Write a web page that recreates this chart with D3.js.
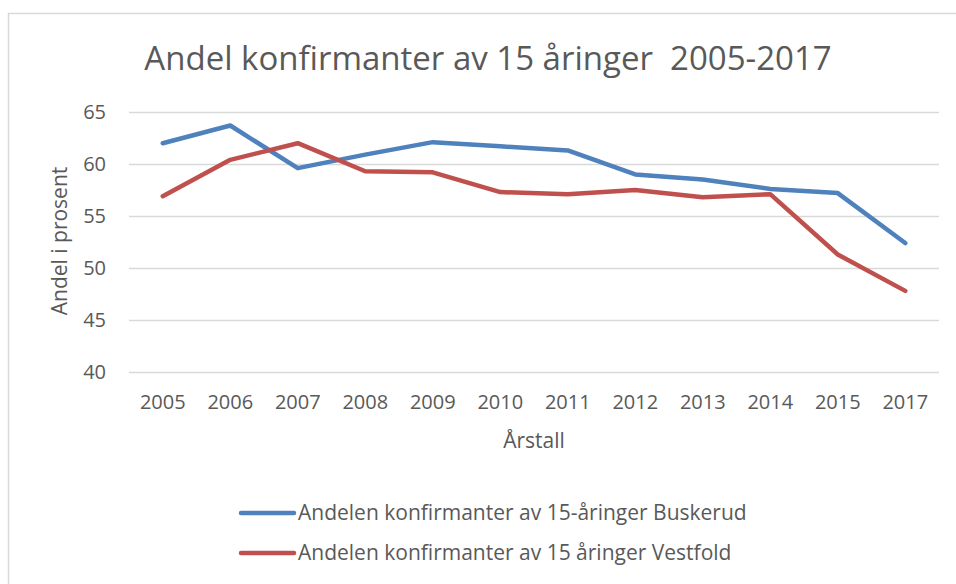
<!DOCTYPE html>
<html>
<head>
<meta charset="utf-8">
<script src="https://cdn.jsdelivr.net/npm/d3@7"></script>
<style>
  body { margin: 0; background: #fff; }
  text { font-family: "Open Sans", "Noto Sans", sans-serif; fill: #595959; }
</style>
</head>
<body>
<div id="chartDiv" style="width:956px;height:584px"></div>
<script>
// data
const years = ["2005", "2006", "2007", "2008", "2009", "2010", "2011", "2012", "2013", "2014", "2015", "2017"];
const buskerud = [62.0, 63.7, 59.6, 60.9, 62.1, 61.7, 61.3, 59.0, 58.5, 57.6, 57.2, 52.4];
const vestfold = [56.9, 60.4, 62.0, 59.3, 59.2, 57.3, 57.1, 57.5, 56.8, 57.1, 51.3, 47.8];
const yTicks = [40, 45, 50, 55, 60, 65];

const seriesNames = ["Andelen konfirmanter av 15-åringer Buskerud", "Andelen konfirmanter av 15 åringer Vestfold"];
const seriesColors = ["#4F81BD", "#C0504D"];

let chartDiv = document.getElementById("chartDiv");
let width = 956, height = 584;

let svg = d3.select(chartDiv).append("svg")
    .attr("width", width)
    .attr("height", height);

const margin = { top: 112, right: 17, bottom: 212, left: 129 };

// chart area border (only top and left edges fall inside the picture)
svg.append("rect")
    .attr("x", 8.5).attr("y", 13.5)
    .attr("width", 1000).attr("height", 1000)
    .attr("fill", "none")
    .attr("stroke", "#d9d9d9")
    .attr("stroke-width", 1.5);

let x = d3.scaleBand()
    .domain(years)
    .range([margin.left, width - margin.right]);

let y = d3.scaleLinear()
    .domain([40, 65])
    .range([height - margin.bottom, margin.top]);

// gridlines + y labels
let yAxis = d3.axisLeft(y)
    .tickValues(yTicks)
    .tickSize(-(width - margin.left - margin.right))
    .tickPadding(23);

let gy = svg.append("g")
    .attr("transform", `translate(${margin.left},0)`)
    .call(yAxis);
gy.select(".domain").remove();
gy.selectAll(".tick line").attr("stroke", "#d9d9d9").attr("stroke-width", 1.3);
gy.selectAll(".tick text").style("font-size", "20px").attr("fill", "#595959");

// x labels
let xAxis = d3.axisBottom(x).tickSize(0).tickPadding(23);
let gx = svg.append("g")
    .attr("transform", `translate(0,${height - margin.bottom})`)
    .call(xAxis);
gx.select(".domain").remove();
gx.selectAll(".tick text").style("font-size", "20px").attr("fill", "#595959");

// lines
let line = d3.line()
    .x((d, i) => x(years[i]) + x.bandwidth() / 2)
    .y(d => y(d));

[buskerud, vestfold].forEach((s, k) => {
    svg.append("path")
        .datum(s)
        .attr("fill", "none")
        .attr("stroke", seriesColors[k])
        .attr("stroke-width", 4.5)
        .attr("stroke-linejoin", "round")
        .attr("stroke-linecap", "round")
        .attr("d", line);
});

// title (keeps the double space)
svg.append("text")
    .attr("x", 488)
    .attr("y", 70)
    .attr("text-anchor", "middle")
    .style("font-size", "33px")
    .style("white-space", "pre")
    .text("Andel konfirmanter av 15 åringer  2005-2017");

// axis titles
svg.append("text")
    .attr("transform", "translate(67,241) rotate(-90)")
    .attr("text-anchor", "middle")
    .style("font-size", "21px")
    .text("Andel i prosent");

svg.append("text")
    .attr("x", 534)
    .attr("y", 448)
    .attr("text-anchor", "middle")
    .style("font-size", "21px")
    .text("Årstall");

// legend
let legend = svg.append("g").attr("transform", "translate(241,513)");
seriesNames.forEach((name, k) => {
    let g = legend.append("g").attr("transform", `translate(0,${k * 40})`);
    g.append("line")
        .attr("x1", 0).attr("x2", 53)
        .attr("stroke", seriesColors[k])
        .attr("stroke-width", 4.5)
        .attr("stroke-linecap", "round");
    g.append("text")
        .attr("x", 57)
        .attr("y", 7)
        .style("font-size", "21px")
        .text(name);
});
</script>
</body>
</html>
